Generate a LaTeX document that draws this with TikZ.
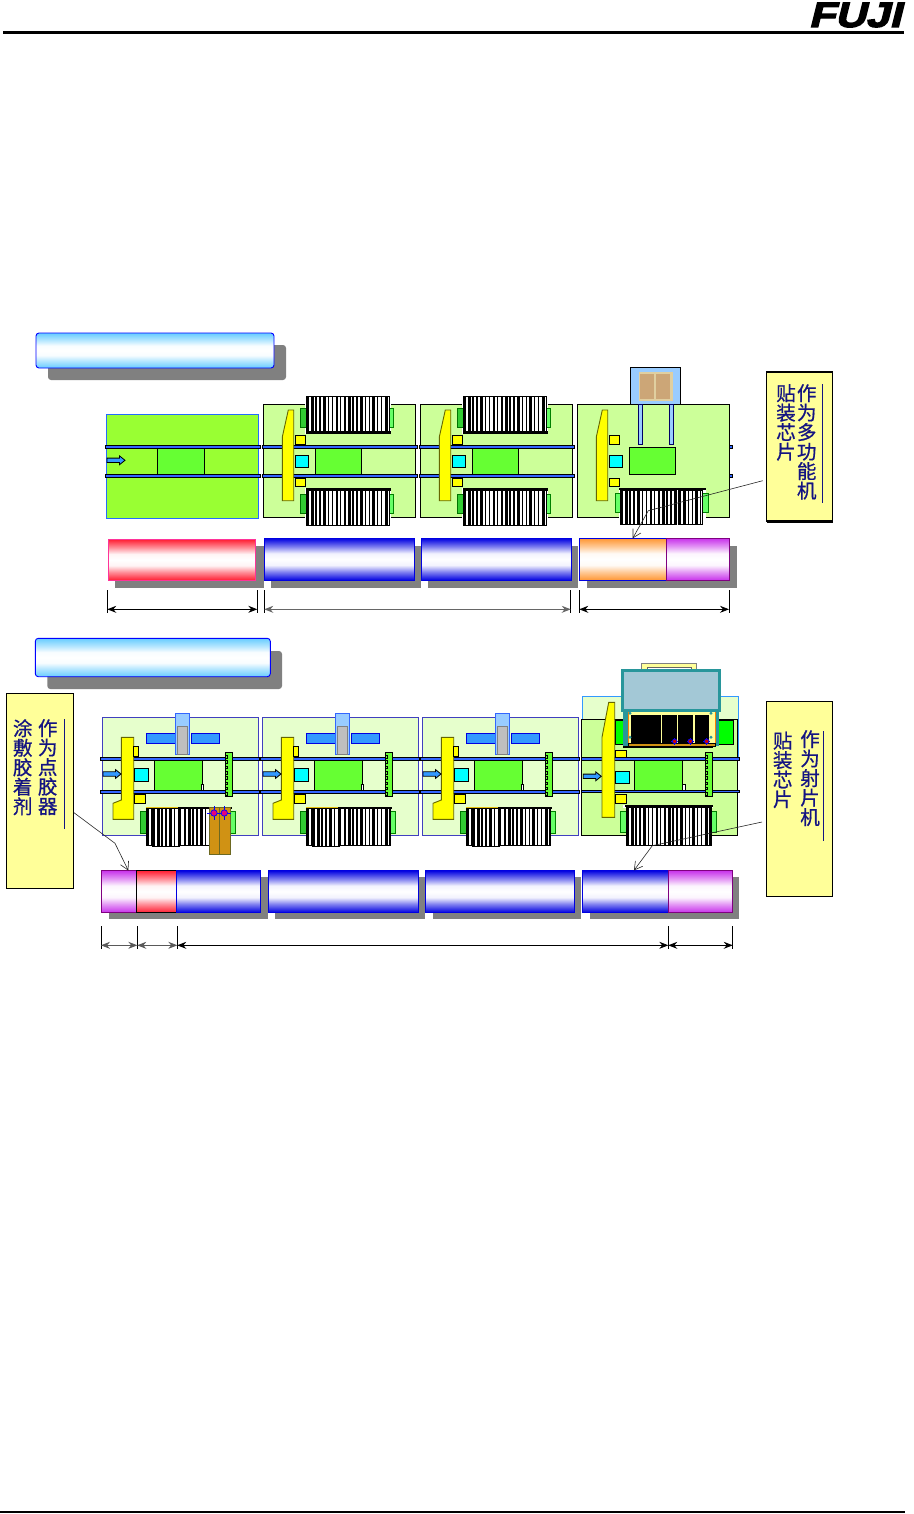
\documentclass[tikz,border=0pt]{standalone}
\usepackage{fontspec}
\usetikzlibrary{arrows.meta, calc}
\newfontfamily\cjk[FakeBold=0.7]{Noto Sans CJK SC}
\newfontfamily\logofont[FakeSlant=0.25,FakeStretch=1.22,FakeBold=4]{Liberation Sans}
\definecolor{railblue}{RGB}{51, 102, 255}
\definecolor{arrowblue}{RGB}{51, 153, 255}
\definecolor{skypale}{RGB}{153, 204, 255}
\definecolor{platepale}{RGB}{230, 255, 204}
\definecolor{platemid}{RGB}{204, 255, 153}
\definecolor{platelime}{RGB}{153, 255, 51}
\definecolor{boardgreen}{RGB}{102, 255, 51}
\definecolor{headyellow}{RGB}{255, 255, 0}
\definecolor{padcyan}{RGB}{0, 255, 255}
\definecolor{dotmagenta}{RGB}{230, 0, 126}
\definecolor{tabgreen}{RGB}{51, 204, 51}
\definecolor{trayframe}{RGB}{224, 207, 160}
\definecolor{traybrown}{RGB}{204, 166, 119}
\definecolor{calltext}{RGB}{20, 20, 130}
\definecolor{callfill}{RGB}{255, 255, 153}
\definecolor{tealframe}{RGB}{40, 150, 155}
\definecolor{tealfill}{RGB}{163, 200, 214}
\definecolor{amber}{RGB}{208, 146, 20}
\definecolor{skyfill}{RGB}{102, 204, 255}
\definecolor{barblue}{RGB}{0, 0, 225}
\definecolor{barred}{RGB}{255, 30, 50}
\definecolor{barorange}{RGB}{255, 150, 50}
\definecolor{barviolet}{RGB}{200, 50, 235}
\definecolor{barpink}{RGB}{255, 51, 153}
\definecolor{barpurple}{RGB}{128, 0, 128}
\newcommand{\barshade}[2]{\pgfdeclareverticalshading{#1}{100bp}{color(0bp)=(#2); color(25bp)=(#2); color(35bp)=(#2!50!white); color(43bp)=(#2!5!white); color(50bp)=(white); color(57bp)=(#2!5!white); color(65bp)=(#2!50!white); color(75bp)=(#2); color(100bp)=(#2)}}
\barshade{skyshade}{skyfill}
\barshade{blueshade}{barblue}
\barshade{redshade}{barred}
\barshade{orangeshade}{barorange}
\barshade{violetshade}{barviolet}
% striped parts bank: x1, y1, x2, y2
\newcommand{\feederbank}[4]{%
  \begin{scope}
    \clip (#1,#2) rectangle (#3,#4);
    \fill[white] (#1,#2) rectangle (#3,#4);
    \foreach \s in {0,...,24} \draw[line width=1.5pt] ({#1+1.6+\s*4.1},#2) -- ++(0,{#4-#2});
    \foreach \s in {0,...,8} \draw[line width=2.8pt] ({#1+6+\s*12.3},#2) -- ++(0,{#4-#2});
  \end{scope}
  \draw[line width=.8pt] (#1,#2) rectangle (#3,#4);
}
\newcommand{\flowarrow}[2]{\draw[fill=arrowblue, line width=.8pt] (#1,#2-2.2) -- ++(12.5,0) -- ++(0,-2.2) -- ++(5.5,4.4) -- ++(-5.5,4.4) -- ++(0,-2.2) -- ++(-12.5,0) -- cycle;}
\begin{document}
\begin{tikzpicture}[x=1pt, y=-1pt,
  part/.style={draw=black, line width=.8pt},
  rail/.style={part, fill=railblue},
  headpart/.style={fill=headyellow, draw=black!60!headyellow, line width=.9pt},
  tabdark/.style={fill=tabgreen, draw=green!45!black, line width=.8pt},
  tablight/.style={fill=green!60, draw=green!50!black, line width=.8pt},
  bar/.style={rectangle, anchor=north west, inner sep=0pt, outer sep=0pt, minimum height=42pt, line width=.9pt},
  titlebar/.style={rectangle, anchor=north west, inner sep=0pt, outer sep=0pt, rounded corners=3pt, shading=skyshade, draw=blue, line width=.9pt},
  callbox/.style={rectangle, anchor=north west, inner sep=0pt, outer sep=0pt, minimum width=66pt, fill=callfill, draw=black, line width=.9pt},
  calltxt/.style={anchor=north, inner sep=0pt, align=center, text=calltext, font=\cjk\fontsize{19.5}{19.5}\selectfont},
  callrule/.style={draw=calltext, line width=.8pt},
  callarr/.style={-{Straight Barb[length=8pt, width=9pt]}, line width=.6pt, black!85},
  dimarr/.style={{Stealth[inset=3pt, length=9pt, width=7pt]}-{Stealth[inset=3pt, length=9pt, width=7pt]}, line width=.8pt},
  dimtick/.style={line width=.8pt},
  shadow/.style={fill=black!50},
  dotpink/.style={fill=dotmagenta, draw=blue, line width=.7pt}
]
  \useasboundingbox (0,0) rectangle (913,1514);

  % Page header and footer
  \node[inner sep=0pt, font=\logofont\bfseries\fontsize{35}{35}\selectfont] (logo) at (855,15) {FUJI};
  \fill (3,31.5) rectangle (904,34.5);
  \fill (0,1511) rectangle (905,1513);

  % First line: title and machines
  \fill[shadow, rounded corners=3pt] (48,345) rectangle (286,380);
  \node[titlebar, minimum width=238pt, minimum height=35pt] (titleone) at (36,333) {};

  \draw[fill=platelime, draw=arrowblue!70!blue, line width=.9pt] (106.3,414.3) rectangle (258.7,518.7);
  \fill[boardgreen] (157.3,448) rectangle (204.3,475);
  \draw[line width=.8pt] (157.3,448) -- (157.3,475) (204.3,448) -- (204.3,475);
  \draw[rail] (105,445.4) rectangle (260.5,448);
  \draw[rail] (105,474.7) rectangle (260.5,477.3);
  \flowarrow{107}{460.3}

  \foreach \dx in {0,157} {
    \begin{scope}[shift={(\dx,0)}]
      \draw[part, fill=platemid] (263.3,404.3) rectangle (415.7,517.7);
      \fill[boardgreen] (315.3,448) rectangle (361.3,475);
      \draw[line width=.8pt] (315.3,448) -- (315.3,475) (361.3,448) -- (361.3,475);
      \draw[rail] (262.5,445.4) rectangle (417.5,448);
      \draw[rail] (262.5,474.7) rectangle (417.5,477.3);
      \fill[white] (304.5,395) rectangle (391,433.5);
      \fill (306,431) rectangle (391,433.5);
      \draw[tabdark] (300.3,408.3) rectangle (306.3,427.7);
      \draw[tablight] (389,408.3) rectangle (393.7,427.7);
      \feederbank{306.3}{396.3}{389}{431.3}
      \fill[white] (304.5,488) rectangle (391,526);
      \fill (306,488) rectangle (391,490.7);
      \draw[tabdark] (300.3,494.3) rectangle (306.3,513.7);
      \draw[tablight] (389,494.3) rectangle (393.7,513.7);
      \feederbank{306.3}{490.7}{389}{525.3}
    \end{scope}
  }

  \draw[part, fill=platemid] (577.3,404.3) rectangle (729.7,517.7);
  \draw[part, fill=boardgreen] (629.3,447.3) rectangle (675.7,474.7);
  \draw[rail] (729.7,445.4) rectangle (732,448);
  \draw[rail] (729.7,474.7) rectangle (732,477.3);
  \draw[part, fill=skypale] (630.3,367.3) rectangle (680.7,404.3);
  \fill[trayframe] (639,372) rectangle (673,401);
  \fill[traybrown] (640.3,374) rectangle (654.3,399.3);
  \fill[traybrown] (656,374) rectangle (670.3,399.3);
  \draw[fill=skypale, draw=blue!40!black, line width=.8pt] (638.3,404.3) rectangle (642.3,444.7);
  \draw[fill=skypale, draw=blue!40!black, line width=.8pt] (669.3,404.3) rectangle (673.3,444.7);
  \fill[white] (618.7,488) rectangle (705.7,518);
  \fill (618.7,488) rectangle (705.7,490);
  \draw[tablight] (615.3,493.3) rectangle (620.3,512.7);
  \draw[tablight] (702.7,493.3) rectangle (708.7,512.7);
  \feederbank{620.3}{490}{676.7}{524.7}
  \feederbank{678.5}{490}{702.7}{524.7}

  % Heads of the first line
  \foreach \dx in {0,157,314} {
    \begin{scope}[shift={(\dx,0)}]
      \draw[headpart] (288.3,410) -- (293.7,410) -- (293.7,500.7) -- (282.3,500.7) -- (282.3,437) -- cycle;
      \draw[part, fill=headyellow] (295.3,435.3) rectangle (305.5,444.7);
      \draw[part, fill=headyellow] (295.3,478.3) rectangle (305.5,486.7);
      \draw[part, fill=padcyan] (295.3,455.3) rectangle (308.7,467.7);
    \end{scope}
  }

  % First line: bars
  \fill[shadow] (115,546) rectangle (264,587.7);
  \fill[shadow] (271,546) rectangle (421,587.7);
  \fill[shadow] (428,546) rectangle (578,587.7);
  \fill[shadow] (587,546) rectangle (737,587.7);
  \node[bar, shading=redshade, draw=barpink, minimum width=147.4pt, minimum height=41pt] (barprint) at (108.3,539.3) {};
  \node[bar, shading=blueshade, draw=barblue, minimum width=150.4pt] (barone) at (264.3,538.3) {};
  \node[bar, shading=blueshade, draw=barblue, minimum width=150.7pt] (bartwo) at (421,538.3) {};
  \node[bar, shading=orangeshade, draw=barblue, minimum width=87pt] (barchip) at (579.3,538.3) {};
  \node[bar, shading=violetshade, draw=barpurple, minimum width=63.4pt] (barmulti) at (666.3,538.3) {};

  % First line: dimensions
  \foreach \n/\x in {a/107.3,b/257.3,c/264.3,d/570.7,e/579.3,f/729} {
    \coordinate (top\n) at (\x,609.3);
    \draw[dimtick] (\x,590) -- (\x,612.7);
  }
  \draw[dimarr] (topa) -- (topb);
  \draw[dimarr, black!60] (topc) -- (topd);
  \draw[dimarr] (tope) -- (topf);

  % First callout
  \node[callbox, minimum height=149.6pt] (callmulti) at (766.7,371.7) {};
  \draw[line width=2.4pt] (callmulti.north west) -- (callmulti.north east);
  \draw[line width=2.4pt] (callmulti.south west) -- (callmulti.south east);
  \node[calltxt] (multiright) at (806.7,384) {作\\为\\多\\功\\能\\机};
  \node[calltxt] (multileft) at (786,384) {贴\\装\\芯\\片};
  \draw[callrule] (822.3,384.3) -- (822.3,502.7);
  \coordinate (kneemulti) at (648.3,510.7);
  \draw[callarr] ($(callmulti.west)+(-4,34.2)$) -- (kneemulti) -- ($(barchip.north)+(9.9,0)$);

  % Second line: title and machines
  \fill[shadow, rounded corners=3pt] (47.3,651) rectangle (282,689);
  \node[titlebar, minimum width=235pt, minimum height=38.4pt] (titletwo) at (35.3,638.3) {};

  \draw[fill=platepale, draw=arrowblue, line width=.8pt] (582.3,696.3) rectangle (738.7,760);
  \draw[part, fill=platemid] (581.3,719.3) rectangle (737.7,835.3);
  \draw[part, fill=green] (615,720.3) rectangle (640,744.3);
  \draw[part, fill=green] (700,720.3) rectangle (733.7,744.3);

  \foreach \dx in {0,160,320} {
    \begin{scope}[shift={(\dx,0)}]
      \draw[fill=platepale, draw=blue!50!gray, line width=.8pt] (102.3,717.3) rectangle (258.3,835.3);
      \draw[fill=arrowblue, draw=barblue, line width=.8pt] (146.3,733.3) rectangle (175,743.3);
      \draw[fill=arrowblue, draw=barblue, line width=.8pt] (191.3,733.3) rectangle (219.7,743.3);
      \draw[fill=skypale, draw=railblue, line width=.8pt] (175.3,713.3) rectangle (189.7,754.7);
      \draw[fill=black!25, draw=black!50, line width=.8pt] (177.3,726.3) rectangle (187.7,754);
      \fill[boardgreen] (154.7,761) rectangle (202.3,790);
      \draw[line width=.8pt] (154.7,761) -- (154.7,790) (202.3,761) -- (202.3,790);
      \draw[part, fill=white] (201.3,784.3) rectangle (203.7,790);
      \draw[rail] (100.3,757.4) rectangle (259.7,760);
      \draw[rail] (100.3,790.7) rectangle (259.7,793.3);
      \draw[tabdark] (140.3,811.7) rectangle (146.3,833.3);
      \draw[tablight] (230.7,811.7) rectangle (235.7,833.3);
      \feederbank{146.3}{808}{230.7}{845.7}
      \fill (146.3,806.7) rectangle (231.5,808.7);
      \fill[amber!60!headyellow] (146.3,806.7) rectangle (178,808);
      \feederbank{152.3}{808}{179}{846.7}
      \draw[part, fill=boardgreen] (225,752.3) rectangle (232.7,796.7);
      \foreach \i in {0,...,7} \draw[line width=.8pt] (225,{755.5+\i*5.3}) -| +(2.8,2.5) -- +(0,2.5);
      \draw[headpart] (121.3,737.3) -- (133.7,737.3) -- (133.7,819.3) -- (113,819.3) -- (113,803.3) -- (121.3,800) -- cycle;
      \draw[part, fill=headyellow] (133.7,746.3) rectangle (138.7,756.7);
      \draw[part, fill=headyellow] (134.3,794.3) rectangle (145.7,803.7);
      \draw[part, fill=padcyan] (134.3,768.3) rectangle (148.7,781.7);
      \flowarrow{103}{774}
    \end{scope}
  }

  % Dispenser unit on the first module
  \draw[fill=amber, draw=olive!70!black, line width=.8pt] (209.3,807.3) rectangle (219.3,854.7);
  \draw[fill=amber, draw=olive!70!black, line width=.8pt] (219.3,807.3) rectangle (230,854.7);
  \foreach \x in {214,224.3} {
    \draw[blue, line width=.7pt] (\x-7,813) -- (\x+7,813) (\x,806) -- (\x,820);
    \draw[dotpink] (\x,813) circle (3.2);
  }

  % Last machine of the second line
  \fill[boardgreen] (634.3,761) rectangle (682.3,790);
  \draw[line width=.8pt] (634.3,761) -- (634.3,790) (682.3,761) -- (682.3,790);
  \draw[part, fill=white] (682.3,784.3) rectangle (685,790);
  \draw[rail] (581.7,757.4) rectangle (739.7,760);
  \draw[rail] (581.7,790) rectangle (739.7,792.6);
  \draw[tablight] (620.3,811.3) rectangle (626.3,832.7);
  \draw[tablight] (711.7,811.3) rectangle (716.7,832.7);
  \fill[white] (623.3,805) rectangle (713,808);
  \fill (625,805) rectangle (713,807);
  \feederbank{626.3}{807}{711.7}{845.7}
  \draw[part, fill=boardgreen] (705,752.3) rectangle (712.7,796.7);
  \foreach \i in {0,...,7} \draw[line width=.8pt] (705,{755.5+\i*5.3}) -| +(2.8,2.5) -- +(0,2.5);
  \draw[headpart] (608.7,702.3) -- (614.7,702.3) -- (614.7,817.3) -- (602,817.3) -- (602,737.3) -- cycle;
  \draw[part, fill=headyellow] (615.3,750.3) rectangle (626.7,757.7);
  \draw[part, fill=headyellow] (615.3,794.3) rectangle (626.7,803.7);
  \draw[part, fill=padcyan] (615.3,771.3) rectangle (629.7,783.7);
  \flowarrow{583.3}{776.3}

  % Tray unit over the last machine
  \draw[fill=callfill, draw=black!50, line width=.9pt] (641.3,663.7) rectangle (696.7,680);
  \draw[fill=white, draw=black!60, line width=.9pt] (647.3,667.3) rectangle (691.3,680);
  \fill (623,744) rectangle (713,748);
  \fill[tealframe] (623,708) rectangle (718.7,746);
  \draw[fill=callfill, draw=orange, line width=.9pt] (628.3,711) rectangle (715,745);
  \foreach \xa/\xb in {630.7/661,662/677,678/693.3,695/709.3} \fill (\xa,715) rectangle (\xb,743.3);
  \draw[fill=amber, draw=black, line width=.6pt] (628.3,743.3) rectangle (715,746);
  \foreach \x in {674.7,690.3,706.7} {
    \draw[blue, line width=.6pt] (\x-3.5,741.3) -- (\x+3.5,741.3) (\x,738) -- (\x,744.5);
    \draw[dotpink, fill=red!80!black] (\x,741.3) circle (2.3);
  }
  \foreach \x/\y in {630/713.3,711/713.3,630/737.3,711/737.3} \fill[tealframe] (\x,\y) circle (1.6);
  \draw[fill=tealfill, draw=tealframe, line width=3pt] (622.3,670.3) rectangle (719.7,710);

  % Second line: bars
  \fill[shadow] (109,876.7) rectangle (268,918.7);
  \fill[shadow] (275,876.7) rectangle (425,918.7);
  \fill[shadow] (433,876.7) rectangle (581,918.7);
  \fill[shadow] (590,876.7) rectangle (739,918.7);
  \node[bar, shading=violetshade, draw=barpurple, minimum width=35pt] (bardisp) at (101.3,870.5) {};
  \node[bar, shading=redshade, draw=black, minimum width=39.7pt] (barglue) at (136.3,870.5) {};
  \node[bar, shading=blueshade, draw=barblue, minimum width=84.7pt] (barthree) at (176,870.5) {};
  \node[bar, shading=blueshade, draw=barblue, minimum width=150.4pt] (barfour) at (268.3,870.5) {};
  \node[bar, shading=blueshade, draw=barblue, minimum width=149.4pt] (barfive) at (425.3,870.5) {};
  \node[bar, shading=blueshade, draw=barblue, minimum width=86pt] (barsix) at (582.3,870.5) {};
  \node[bar, shading=violetshade, draw=barpurple, minimum width=64.4pt] (barshot) at (668.3,870.5) {};

  % Second line: dimensions
  \foreach \n/\x in {a/101,b/137.3,c/177.3,d/668.3,e/732.7} {
    \coordinate (low\n) at (\x,945.3);
    \draw[dimtick] (\x,926) -- (\x,949);
  }
  \draw[dimarr, black!65] (lowa) -- (lowb);
  \draw[dimarr, black!65] (lowb) -- (lowc);
  \draw[dimarr] (lowc) -- (lowd);
  \draw[dimarr] (lowd) -- (lowe);

  % Left callout
  \node[callbox, minimum width=67pt, minimum height=195pt] (calldisp) at (6.3,693.3) {};
  \node[calltxt] (dispright) at (47.7,719) {作\\为\\点\\胶\\器};
  \node[calltxt] (displeft) at (22.7,719) {涂\\敷\\胶\\着\\剂};
  \draw[callrule] (64.3,719.3) -- (64.3,828.7);
  \coordinate (kneedisp) at (115,843.3);
  \draw[callarr] ($(calldisp.east)+(.7,21.9)$) -- (kneedisp) -- ($(bardisp.north)+(9.5,0)$);

  % Right callout
  \node[callbox, minimum height=195pt] (callshot) at (766.7,701.3) {};
  \node[calltxt] (shotright) at (810,730) {作\\为\\射\\片\\机};
  \node[calltxt] (shotleft) at (782.7,731.5) {贴\\装\\芯\\片};
  \draw[callrule] (823.3,731) -- (823.3,840.7);
  \coordinate (kneeshot) at (652.3,845.7);
  \draw[callarr] ($(callshot.west)+(-4.7,23.2)$) -- (kneeshot) -- ($(barsix.north)+(8.6,0)$);
\end{tikzpicture}
\end{document}
